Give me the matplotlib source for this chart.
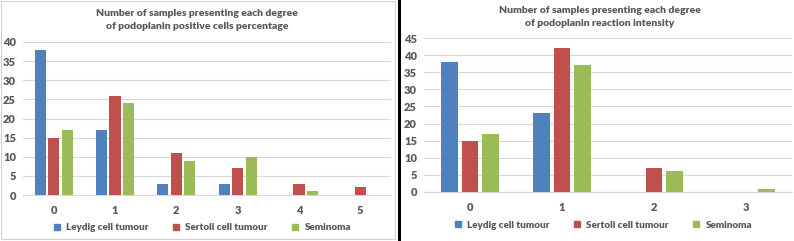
import matplotlib
matplotlib.use("Agg")
import matplotlib.pyplot as plt
from matplotlib.patches import Rectangle
from matplotlib.lines import Line2D
import numpy as np

plt.rcParams['font.family'] = ['Lato', 'DejaVu Sans']

series = ['Leydig cell tumour', 'Sertoli cell tumour', 'Seminoma']
colors = ['#4f81bd', '#c0504d', '#9bbb59']

# left chart: positive cells percentage
pct_degrees = ['0', '1', '2', '3', '4', '5']
pct_leydig = [38, 17, 3, 3, 0, 0]
pct_sertoli = [15, 26, 11, 7, 3, 2]
pct_seminoma = [17, 24, 9, 10, 1, 0]

# right chart: reaction intensity
int_degrees = ['0', '1', '2', '3']
int_leydig = [38, 23, 0, 0]
int_sertoli = [15, 42, 7, 0]
int_seminoma = [17, 37, 6, 1]

grey = '#595959'
grid = '#d9d9d9'

fig = plt.figure(figsize=(7.94, 2.41), dpi=100)


def draw(ax, cats, vals, ymax, title, tx, ty):
    x = np.arange(len(cats))
    w = 0.18
    offs = [-0.22, 0, 0.22]
    for v, c, o, name in zip(vals, colors, offs, series):
        ax.bar(x + o, v, w, color=c, label=name, zorder=3)
    ax.set_xlim(-0.5, len(cats) - 0.5)
    ax.set_ylim(0, ymax)
    ax.set_yticks(np.arange(0, ymax + 1, 5))
    ax.set_xticks(x)
    ax.set_xticklabels(cats)
    ax.grid(axis='y', color=grid, lw=0.8, zorder=0)
    for s in ['top', 'right', 'left']:
        ax.spines[s].set_visible(False)
    ax.spines['bottom'].set_color(grid)
    ax.tick_params(length=0, colors=grey, labelsize=8)
    ax.tick_params(axis='x', pad=7)
    ax.tick_params(axis='y', pad=5)
    for t in ax.get_xticklabels() + ax.get_yticklabels():
        t.set_fontweight('heavy')
    handles = [Line2D([], [], marker='s', ls='', color=c, markersize=5) for c in colors]
    ax.legend(handles, series, loc='center', bbox_to_anchor=(0.478, -0.215), ncol=3,
              frameon=False, handletextpad=0.0, columnspacing=1.7,
              prop={'size': 7.1, 'weight': 'heavy'}, labelcolor=grey)
    fig.text(tx, ty, title, ha='center', va='center', fontsize=7.5,
             fontweight='heavy', color=grey, linespacing=1.5)


ax1 = fig.add_axes([23 / 794, 46 / 241, 368 / 794, 153 / 241])
draw(ax1, pct_degrees, [pct_leydig, pct_sertoli, pct_seminoma], 40,
     'Number of samples presenting each degree\nof podoplanin positive cells percentage',
     197 / 794, 1 - 20 / 241)

ax2 = fig.add_axes([424 / 794, 49 / 241, 368 / 794, 154 / 241])
draw(ax2, int_degrees, [int_leydig, int_sertoli, int_seminoma], 45,
     'Number of samples presenting each degree\nof podoplanin reaction intensity',
     600 / 794, 1 - 17 / 241)

# panel frames
fig.patches.append(Rectangle((0.5 / 794, 2 / 241), 394 / 794, 238 / 241, transform=fig.transFigure,
                             fill=False, ec='#d0d0d0', lw=0.8))
fig.lines.append(Line2D([399 / 794, 399 / 794], [0, 1], transform=fig.transFigure,
                        color='black', lw=2.2))

fig.savefig('out.png', dpi=100)
